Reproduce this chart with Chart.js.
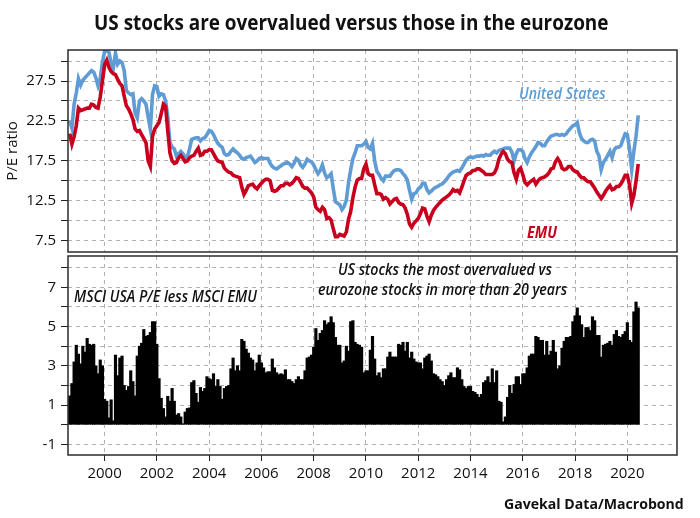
<!DOCTYPE html>
<html>
<head>
<meta charset="utf-8">
<script src="https://cdn.jsdelivr.net/npm/chart.js@4"></script>
<style>
  html, body { margin: 0; padding: 0; background: #fff; }
  #page { position: relative; width: 700px; height: 518px; overflow: hidden; font-family: "Open Sans", sans-serif; color: #111; }
  canvas { position: absolute; left: 0; }
  #topChart { top: 0; }
  #bottomChart { top: 240px; }
  .note { position: absolute; white-space: nowrap; transform-origin: left center; line-height: 20px; }
  .slant { font-style: italic; font-weight: 600; font-size: 16px; transform: scaleX(0.885); }
  #title { left: 94px; top: 11px; font-size: 22px; font-weight: 700; transform: scaleX(0.86); }
  #usLabel { left: 519px; top: 83px; color: #5b9bd5; }
  #emuLabel { left: 527px; top: 222px; color: #c8001e; font-weight: 700; }
  #overvalued1 { left: 338px; top: 259px; }
  #overvalued2 { left: 318px; top: 279px; }
  #spreadLabel { left: 74px; top: 286px; }
  #source { left: 504px; top: 493px; font-size: 15px; font-weight: 700; transform: scaleX(0.94); }
</style>
</head>
<body>
<div id="page">
  <canvas id="topChart" width="700" height="266"></canvas>
  <canvas id="bottomChart" width="700" height="278"></canvas>
  <div class="note" id="title">US stocks are overvalued versus those in the eurozone</div>
  <div class="note slant" id="usLabel">United States</div>
  <div class="note slant" id="emuLabel">EMU</div>
  <div class="note slant" id="overvalued1">US stocks the most overvalued vs</div>
  <div class="note slant" id="overvalued2">eurozone stocks in more than 20 years</div>
  <div class="note slant" id="spreadLabel">MSCI USA P/E less MSCI EMU</div>
  <div class="note" id="source">Gavekal Data/Macrobond</div>
</div>
<script>
// monthly, Sep 1998 to Jun 2020, one row per year
const US_PE = [
  22.5, 21.6, 24.6, 26.0,
  27.8, 27.0, 27.6, 27.9, 28.2, 28.5, 28.8, 28.6, 27.9, 26.9, 27.8, 29.8,
  31.2, 31.3, 31.1, 29.7, 29.1, 31.0, 29.6, 30.0, 29.8, 28.8, 26.3, 26.0,
  25.8, 25.9, 23.5, 22.9, 25.0, 25.3, 25.0, 24.6, 23.0, 21.5, 25.8, 26.9,
  26.8, 25.6, 25.9, 25.8, 25.0, 23.0, 19.8, 19.2, 19.0, 18.1, 18.4, 18.7,
  18.4, 17.9, 18.0, 19.0, 20.2, 20.3, 20.4, 20.4, 20.0, 20.3, 20.4, 20.8,
  21.3, 21.2, 20.8, 20.2, 19.7, 19.4, 19.2, 18.4, 18.2, 18.3, 18.7, 19.0,
  18.7, 18.5, 18.2, 17.8, 17.7, 17.9, 18.0, 18.1, 17.7, 17.3, 17.5, 17.8,
  17.9, 17.8, 17.8, 17.8, 17.2, 16.8, 16.6, 16.5, 16.7, 16.9, 17.1, 17.2,
  17.3, 17.1, 16.8, 17.2, 17.8, 17.6, 17.0, 16.7, 17.1, 17.7, 17.5, 17.4,
  17.0, 16.4, 15.9, 16.3, 17.0, 16.0, 15.4, 15.6, 15.9, 14.0, 12.4, 12.2,
  12.0, 11.4, 11.8, 12.6, 14.8, 16.4, 17.8, 18.5, 19.4, 19.4, 19.4, 19.6,
  19.9, 19.2, 19.0, 19.7, 17.5, 16.2, 15.8, 15.3, 15.0, 15.6, 15.6, 15.6,
  16.0, 16.3, 16.4, 16.4, 16.3, 15.9, 15.6, 15.1, 13.8, 12.7, 13.4, 13.5,
  14.0, 14.2, 14.7, 14.7, 13.9, 13.5, 13.7, 14.0, 14.2, 14.3, 14.5, 14.6,
  14.9, 15.2, 15.6, 15.9, 16.1, 16.2, 16.3, 16.2, 16.6, 17.1, 17.6, 17.9,
  18.0, 17.9, 18.0, 18.1, 18.1, 18.2, 18.1, 18.3, 18.2, 18.2, 18.5, 18.7,
  18.5, 18.8, 18.9, 19.0, 19.1, 19.1, 19.1, 18.6, 17.5, 18.4, 18.9, 18.9,
  18.7, 17.8, 17.3, 18.0, 18.5, 18.9, 19.3, 19.8, 19.7, 19.4, 19.4, 19.9,
  20.3, 20.6, 20.7, 20.8, 20.8, 20.7, 20.8, 20.7, 20.9, 21.3, 21.6, 21.9,
  22.0, 22.3, 21.0, 20.3, 20.0, 19.8, 19.8, 20.1, 20.2, 20.0, 18.7, 18.1,
  16.4, 17.3, 17.7, 18.2, 18.7, 17.9, 18.9, 19.2, 19.2, 19.4, 20.2, 20.9,
  20.8, 19.0, 16.4, 18.7, 20.6, 23.2,
];

const EMU_PE = [
  20.9, 19.6, 20.5, 21.9,
  24.1, 23.8, 23.9, 24.0, 24.1, 24.1, 24.6, 24.5, 24.2, 24.1, 25.5, 27.5,
  29.5, 30.1, 29.2, 28.7, 28.4, 28.3, 27.7, 27.2, 26.9, 25.6, 24.4, 24.0,
  23.4, 22.7, 21.5, 21.2, 21.3, 20.8, 20.3, 19.8, 17.5, 16.8, 20.6, 21.5,
  21.9, 22.3, 23.4, 24.6, 24.3, 21.3, 18.5, 17.5, 17.2, 17.3, 17.9, 18.2,
  17.8, 17.4, 17.5, 17.9, 18.1, 18.2, 18.7, 19.1, 18.2, 18.3, 18.7, 18.7,
  18.9, 18.9, 18.4, 17.9, 17.5, 17.4, 17.3, 16.6, 16.3, 16.1, 16.0, 15.7,
  15.6, 15.5, 15.4, 14.2, 13.3, 13.8, 14.4, 14.5, 14.6, 14.2, 14.0, 14.4,
  14.7, 15.0, 15.2, 15.2, 15.0, 13.8, 13.7, 13.8, 14.1, 14.4, 14.4, 14.7,
  14.7, 14.5, 14.7, 15.0, 15.4, 15.3, 14.8, 14.3, 14.1, 14.1, 13.8, 13.5,
  13.0, 11.7, 11.4, 11.2, 11.7, 11.4, 10.3, 10.4, 10.1, 9.0, 8.0, 8.0,
  8.3, 8.2, 8.1, 8.6, 10.2, 11.2, 12.9, 14.2, 15.1, 15.3, 15.3, 16.5,
  17.1, 15.9, 15.7, 15.7, 14.5, 13.4, 13.4, 13.3, 12.7, 12.9, 12.7, 12.1,
  12.4, 12.7, 12.8, 12.3, 12.1, 12.0, 11.6, 10.8, 9.6, 9.2, 9.7, 10.0,
  10.3, 10.9, 11.6, 11.5, 10.6, 9.9, 10.7, 11.3, 11.7, 12.0, 12.3, 12.6,
  12.8, 13.0, 13.2, 13.5, 13.9, 13.7, 13.8, 13.5, 14.2, 15.0, 15.7, 15.9,
  16.0, 16.3, 16.3, 16.5, 16.5, 16.3, 16.1, 15.8, 15.8, 15.8, 15.8, 16.0,
  16.6, 17.7, 18.3, 18.7, 18.4, 17.7, 17.4, 17.3, 16.0, 15.2, 16.3, 16.6,
  15.8, 14.8, 14.5, 14.8, 15.0, 15.2, 14.6, 15.0, 15.3, 15.4, 15.5, 15.7,
  16.0, 16.5, 16.6, 17.4, 17.8, 17.4, 16.6, 16.4, 16.5, 16.8, 16.8, 16.4,
  16.2, 16.1, 15.7, 15.4, 15.4, 15.1, 14.9, 14.9, 14.5, 14.1, 13.6, 13.2,
  12.8, 13.2, 13.7, 14.1, 14.4, 13.9, 14.0, 14.3, 14.3, 14.6, 15.1, 15.7,
  15.7, 14.5, 12.2, 13.2, 15.0, 17.1,
];

const PE_SPREAD = [
  1.47, 2.1, 3.2, 4.05,
  3.6, 3.1, 4.0, 3.7, 4.4, 4.1, 4.05, 4.1, 3.0, 2.6, 3.3, 3.0,
  1.3, 1.2, 0.35, 1.27, 0.2, 3.55, 2.5, 3.4, 3.5, 2.0, 1.75, 1.95,
  2.75, 2.2, 1.47, 3.5, 4.0, 4.15, 4.85, 4.5, 4.55, 4.7, 5.25, 5.25,
  4.1, 2.35, 1.35, 0.83, 0.4, 1.45, 1.2, 1.85, 1.2, 0.5, 0.57, 0.4,
  0.05, 0.65, 0.83, 0.86, 2.15, 2.25, 1.6, 1.15, 1.9, 1.7, 1.85, 2.45,
  2.35, 2.3, 2.6, 1.95, 2.3, 1.95, 1.3, 1.85, 1.95, 2.0, 2.85, 3.4,
  2.75, 3.0, 2.75, 4.35, 4.25, 3.85, 3.65, 3.4, 3.3, 2.75, 3.15, 3.55,
  3.15, 2.9, 2.65, 2.7, 2.7, 3.35, 2.9, 2.65, 2.55, 2.6, 2.55, 2.8,
  2.3, 2.3, 2.2, 2.1, 2.3, 2.45, 2.3, 2.3, 2.75, 3.4, 3.45, 3.55,
  3.95, 4.9, 4.3, 4.65, 4.8, 5.3, 5.1, 5.2, 5.5, 5.2, 4.45, 4.05,
  4.05, 3.15, 3.25, 4.0, 3.75, 5.25, 5.3, 4.2, 4.1, 4.05, 3.95, 2.65,
  2.75, 2.75, 3.8, 4.5, 3.35, 2.5, 2.65, 2.4, 2.85, 2.85, 3.45, 3.7,
  3.45, 3.45, 3.45, 4.1, 4.05, 4.2, 3.75, 4.2, 3.4, 3.7, 3.35, 3.2,
  3.15, 3.15, 2.85, 3.4, 3.5, 3.6, 3.25, 2.6, 2.55, 2.45, 2.3, 2.2,
  2.0, 2.3, 2.5, 2.65, 2.4, 2.4, 2.9, 2.8, 2.3, 1.95, 1.85, 1.95,
  1.95, 1.7, 1.65, 1.55, 1.4, 1.55, 2.15, 2.25, 2.45, 2.15, 2.85, 2.15,
  2.75, 1.2, 1.15, 0.15, 0.4, 1.4, 2.0, 1.6, 2.05, 2.45, 2.45, 2.05,
  2.6, 2.6, 2.9, 3.5, 3.6, 3.6, 4.5, 4.45, 4.3, 4.3, 3.55, 4.25,
  3.55, 3.75, 4.3, 3.7, 2.85, 3.0, 3.9, 4.25, 4.45, 4.45, 4.5, 5.25,
  5.55, 5.95, 5.55, 5.1, 4.45, 4.95, 4.95, 4.8, 5.5, 5.3, 4.55, 4.55,
  3.45, 4.05, 4.1, 4.15, 4.25, 4.05, 4.6, 4.8, 4.5, 4.45, 4.6, 4.75,
  5.2, 4.3, 4.2, 5.75, 6.25, 5.95,
];

const YEAR_TICKS = [2000, 2002, 2004, 2006, 2008, 2010, 2012, 2014, 2016, 2018, 2020];
const PE_TICKS = [7.5, 10, 12.5, 15, 17.5, 20, 22.5, 25, 27.5, 30];
const PE_LABELS = [7.5, 12.5, 17.5, 22.5, 27.5];
const SPREAD_TICKS = [-1, 0, 1, 2, 3, 4, 5, 6, 7, 8];
const SPREAD_LABELS = [-1, 1, 3, 5, 7];

const FIRST_MONTH = 1998 + 8 / 12;
const GRID_COLOR = "#b8b0b0";
const AXIS_FONT = { family: "Open Sans", size: 15 };

function toPoints(values) {
  return values.map((y, i) => ({ x: FIRST_MONTH + i / 12, y }));
}

function setTicks(list) {
  return (axis) => {
    axis.ticks = list.map((value) => ({ value }));
  };
}

const framePlugin = {
  id: "frame",
  afterDraw(chart) {
    const { ctx, chartArea: a } = chart;
    ctx.save();
    ctx.strokeStyle = "#2b2b2b";
    ctx.lineWidth = 1.5;
    ctx.strokeRect(a.left, a.top, a.right - a.left, a.bottom - a.top);
    ctx.restore();
  },
};

function xAxis(showLabels) {
  return {
    type: "linear",
    min: 1998.6,
    max: 2021.9,
    offset: false,
    afterBuildTicks: setTicks(YEAR_TICKS),
    afterFit: (axis) => {
      axis.height = showLabels ? 30 : 0;
    },
    border: { display: false, dash: [4, 4] },
    grid: {
      color: GRID_COLOR,
      offset: false,
      drawTicks: showLabels,
      tickColor: "#222",
      tickLength: 6,
      tickBorderDash: [],
    },
    ticks: {
      display: showLabels,
      autoSkip: false,
      maxRotation: 0,
      padding: 4,
      color: "#111",
      font: AXIS_FONT,
      callback: (value) => String(value),
    },
  };
}

function yAxis(min, max, tickList, labelList, titleText) {
  return {
    min,
    max,
    afterBuildTicks: setTicks(tickList),
    afterFit: (axis) => {
      axis.width = 68;
    },
    title: {
      display: Boolean(titleText),
      text: titleText,
      color: "#111",
      font: { family: "Open Sans", size: 15 },
      padding: { top: 4, bottom: 0 },
    },
    border: { display: false, dash: [4, 4] },
    grid: {
      color: GRID_COLOR,
      tickColor: "#222",
      tickLength: 7,
      tickBorderDash: [],
    },
    ticks: {
      autoSkip: false,
      padding: 5,
      color: "#111",
      font: AXIS_FONT,
      callback: (value) => (labelList.includes(value) ? String(value) : ""),
    },
  };
}

const sharedOptions = {
  responsive: false,
  animation: false,
  plugins: { legend: { display: false }, tooltip: { enabled: false } },
};

new Chart(document.getElementById("topChart"), {
  type: "line",
  data: {
    datasets: [
      { label: "EMU", data: toPoints(EMU_PE), borderColor: "#c8001e", borderWidth: 3.6, pointRadius: 0 },
      { label: "United States", data: toPoints(US_PE), borderColor: "#5f9bd4", borderWidth: 3.6, pointRadius: 0 },
    ],
  },
  options: {
    ...sharedOptions,
    layout: { padding: { top: 50, bottom: 5, left: 0, right: 23 } },
    scales: {
      x: xAxis(false),
      y: yAxis(6.1, 31.38, PE_TICKS, PE_LABELS, "P/E ratio"),
    },
  },
  plugins: [framePlugin],
});

new Chart(document.getElementById("bottomChart"), {
  type: "bar",
  data: {
    datasets: [
      {
        label: "MSCI USA P/E less MSCI EMU",
        data: toPoints(PE_SPREAD),
        backgroundColor: "#000",
        barThickness: 2.5,
      },
    ],
  },
  options: {
    ...sharedOptions,
    layout: { padding: { top: 16, bottom: 33, left: 0, right: 23 } },
    scales: {
      x: xAxis(true),
      y: yAxis(-1.54, 8.59, SPREAD_TICKS, SPREAD_LABELS, ""),
    },
  },
  plugins: [framePlugin],
});
</script>
</body>
</html>
